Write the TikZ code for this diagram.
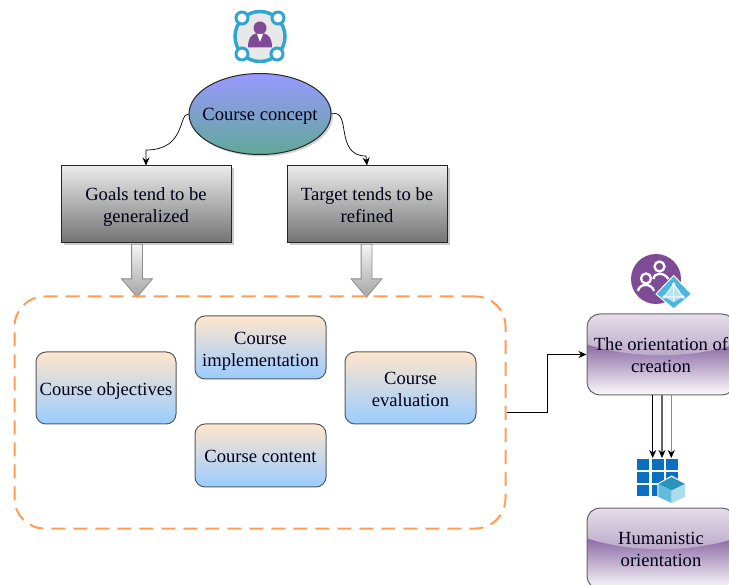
\documentclass[tikz,border=0pt]{standalone}
\usepackage{fontspec}
\setmainfont{Liberation Serif}
\usepackage{tikz}
\usetikzlibrary{positioning}
\usetikzlibrary{shapes.geometric,shapes.arrows,shadows,arrows.meta}
\definecolor{myorange}{HTML}{FF9D55}
\definecolor{mypeach}{HTML}{FFE6CC}
\definecolor{mysky}{HTML}{99CCFF}
\definecolor{mypurple}{HTML}{804B96}
\definecolor{mydusk}{HTML}{8562A0}
\definecolor{mypale}{HTML}{E6E0EB}
\definecolor{mymauve}{HTML}{B8A4C6}
\definecolor{myring}{HTML}{2FA5CF}
\definecolor{mytile}{HTML}{0A6FC4}
\definecolor{myviolet}{HTML}{9999FF}
\definecolor{myteal}{HTML}{60A898}
\definecolor{mykite}{HTML}{4DB6DE}
\newcommand{\glassback}[2]{
    \begin{scope}[shift={(#1,#2)}]
        \clip[rounded corners=13pt] (-74,-40.5) rectangle (74,40.5);
        \shade[top color=mydusk, bottom color=white] (-80,-13) rectangle (80,42);
        \shade[top color=mypale, bottom color=mymauve] (-80,-42) -- (80,-42) -- (80,-12) .. controls (30,5) and (-30,5) .. (-80,-12) -- cycle;
    \end{scope}
}
\tikzset{
    label font/.style={font=\fontsize{18.6}{22}\selectfont, align=center, text=black!90!blue},
    text drop/.style={text height=#1, text depth=0pt},
    greybox/.style={label font, draw=black!85, line width=1pt, minimum width=170pt, minimum height=77pt,
        top color=black!8, bottom color=black!55, drop shadow={shadow xshift=2.5pt, shadow yshift=-2.5pt, fill=black!40}},
    peachbox/.style={label font, draw=black!65, line width=1pt, rounded corners=10pt, inner sep=0pt,
        minimum width=131pt, minimum height=63pt, top color=mypeach, bottom color=mysky},
    glassbox/.style={label font, draw=black!60, line width=1pt, rounded corners=13pt, inner sep=0pt,
        minimum width=148pt, minimum height=81pt},
    blockarrow/.style={single arrow, draw=black!45, line width=0.8pt, shape border rotate=270, inner sep=5pt,
        minimum height=53pt, single arrow head extend=10pt, single arrow tip angle=80,
        top color=black!4, bottom color=black!35},
    wire/.style={black, line width=0.7pt, -{Stealth[length=8pt,width=7pt,black]}},
}
\begin{document}
\begin{tikzpicture}[x=1pt, y=-1pt]
    \useasboundingbox (0,0) rectangle (729,585);
    \node(concept) [ellipse, label font, text drop=14pt, draw=black!85, line width=1pt, minimum width=142pt, minimum height=81pt, inner sep=0pt,
        top color=myviolet, bottom color=myteal,
        drop shadow={shadow xshift=2pt, shadow yshift=-2pt, fill=black!35}] at (260,114) {\makebox[0pt][c]{Course concept}};
    \node(goals) [greybox, text drop=37pt] at (146,204.5) {Goals tend to be\\generalized};
    \node(target) [greybox, text drop=37pt, minimum width=160pt, right=55pt of goals] {Target tends to be\\refined};

    \node(goalsarrow) [blockarrow] at (137,267.5) {};
    \node(targetarrow) [blockarrow] at (366.5,267.5) {};

    \node(frame) [draw=myorange, line width=2pt, dash pattern=on 14pt off 8pt, rounded corners=30pt,
        minimum width=491pt, minimum height=232pt] at (260,412.5) {};
    \node(objectives) [peachbox, text drop=16pt, minimum width=140pt, minimum height=72pt] at (106,388) {Course objectives};
    \node(content) [peachbox, text drop=15pt] at (260.5,455.5) {Course content};
    \node(implementation) [peachbox, text drop=39pt, above=44pt of content] {Course\\implementation};
    \node(evaluation) [peachbox, text drop=37pt, minimum height=72pt] at (410.5,388) {Course\\evaluation};

    \glassback{661}{354.5}
    \glassback{661}{548.5}
    \node(creation) [glassbox, text drop=37pt] at (661,354.5) {The orientation of\\creation};
    \node(humanistic) [glassbox, text drop=36pt, below=112pt of creation] {Humanistic\\orientation};

    % curved connectors
    \draw[wire] (concept.west) .. controls (178,114) and (186,150) .. (146,150) -- (goals.north);
    \draw[wire] (concept.east) .. controls (352,108) and (334,156) .. (366,156) -- (target.north);
    \draw[wire] (frame.east) -- ++(41,0) |- (creation.west);

    \coordinate (gridleft) at (652.7,458);
    \coordinate (gridmid) at (662,458);
    \coordinate (gridright) at (671.3,458);
    \draw[wire] (creation.south -| gridleft) -- (gridleft);
    \draw[wire, draw=black!60, line width=1.2pt] (creation.south -| gridmid) -- (gridmid);
    \draw[wire, draw=black!45] (creation.south -| gridright) -- (gridright);

    % person icon
    \fill[black!9] (260,36.5) circle (24);
    \draw[myring, line width=3.5pt] (260,36.5) circle (25);
    \foreach \x/\y in {242/18, 278/18, 242/54, 277/54}
        \draw[myring, line width=3pt, fill=white] (\x,\y) circle (6);
    \fill[mypurple] (260,28) circle (6.5);
    \fill[mypurple] (248,47.5) .. controls (248,38) and (251,35) .. (256,33.5) -- (264,33.5) .. controls (269,35) and (272,38) .. (272,47.5) -- cycle;
    \fill[white] (257,34) -- (263,34) -- (260,42) -- cycle;

    % group icon
    \fill[mypurple] (656,279) circle (25);
    \draw[white, line width=2.3pt] (659.5,266.5) circle (5);
    \draw[white, line width=2.3pt] (653.5,279) .. controls (654,272) and (664,272) .. (668.5,279);
    \draw[white, line width=2.3pt] (646,278.5) circle (5);
    \draw[white, line width=2.3pt] (638,291) .. controls (639,283) and (652,283) .. (654,291);
    \draw[white, line width=1pt, fill=mykite] (673.7,275.5) -- (691.5,294) -- (673.7,309) -- (656,294) -- cycle;
    \fill[mykite!40!white] (673.7,284) -- (683,297) -- (673.7,302) -- (664,297) -- cycle;
    \draw[white, line width=1pt] (673.7,284) -- (683,297) -- (664,297) -- cycle (673.7,284) -- (673.7,302);
    \foreach \x/\y in {673.7/284, 683/297, 664/297}
        \fill[white] (\x,\y) circle (1.8);

    % grid icon with cube
    \foreach \i in {0,1,2}
        \foreach \j in {0,1,2}
            \fill[mytile] (637+14.5*\i,459+13*\j) rectangle ++(12,11);
    \fill[white] (671.7,475.5) -- (686,483.5) -- (686,497.5) -- (671.7,504.5) -- (657.4,497.5) -- (657.4,483.5) -- cycle;
    \fill[myring!90!black] (671.7,477) -- (685,484) -- (671.7,490.5) -- (658.4,484) -- cycle;
    \fill[myring!75!white] (658.4,484) -- (671.7,490.5) -- (671.7,503) -- (658.4,497) -- cycle;
    \fill[myring!40!white] (685,484) -- (671.7,490.5) -- (671.7,503) -- (685,497) -- cycle;
\end{tikzpicture}
\end{document}
